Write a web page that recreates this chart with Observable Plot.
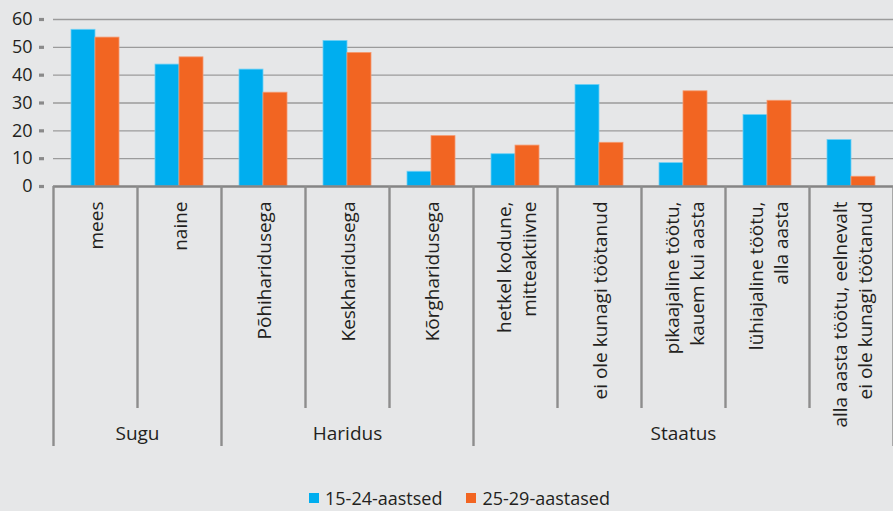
<!DOCTYPE html>
<html>
<head>
<meta charset="utf-8">
<script src="https://cdn.jsdelivr.net/npm/d3@7"></script>
<script src="https://cdn.jsdelivr.net/npm/@observablehq/plot@0.6"></script>
<style>
  html, body { margin: 0; padding: 0; background: #e6e7e8; }
  #wrap { position: relative; width: 893px; height: 511px; overflow: hidden; font-family: "Open Sans", sans-serif; color: #231f20; }
  #legend { position: absolute; left: 309px; top: 488px; height: 20px; line-height: 20px; display: flex; align-items: center; font-size: 18px; }
  #legend .sw { width: 10px; height: 10px; display: inline-block; margin-right: 6px; }
  #legend .item { display: flex; align-items: center; margin-right: 24px; line-height: 20px; }
</style>
</head>
<body>
<div id="wrap"><div id="chart"></div><div id="legend"></div></div>
<script>
const categories = [
  "mees", "naine",
  "Põhiharidusega", "Keskharidusega", "Kõrgharidusega",
  "hetkel kodune,\nmitteaktiivne", "ei ole kunagi töötanud",
  "pikaajaline töötu,\nkauem kui aasta", "lühiajaline töötu,\nalla aasta",
  "alla aasta töötu, eelnevalt\nei ole kunagi töötanud"
];
const groups = ["Sugu", "Sugu", "Haridus", "Haridus", "Haridus",
  "Staatus", "Staatus", "Staatus", "Staatus", "Staatus"];
const seriesNames = ["15-24-aastsed", "25-29-aastased"];
const values1524 = [56.3, 43.8, 42.0, 52.3, 5.3, 11.6, 36.5, 8.4, 25.7, 16.7];
const values2529 = [53.5, 46.4, 33.7, 48.0, 18.1, 14.7, 15.7, 34.2, 30.8, 3.5];
const yTicks = [0, 10, 20, 30, 40, 50, 60];
const colors = ["#00aeef", "#f26522"];

// derived tables
const idx = categories.map((_, i) => i);
const groupSpans = [];
groups.forEach((g, i) => {
  const last = groupSpans[groupSpans.length - 1];
  if (last && last.name === g) last.end = i + 1;
  else groupSpans.push({name: g, start: i, end: i + 1});
});
const groupBounds = [0, ...groupSpans.map(g => g.end)];
const innerBounds = d3.range(1, categories.length).filter(b => !groupBounds.includes(b));

const chart = Plot.plot({
  width: 893,
  height: 482,
  marginLeft: 53,
  marginRight: 0,
  marginTop: 19,
  marginBottom: 296,
  x: {type: "linear", domain: [0, categories.length], axis: null},
  y: {domain: [0, 60], axis: null},
  style: {background: "transparent", fontFamily: "Open Sans, sans-serif", color: "#231f20", overflow: "visible"},
  marks: [
    Plot.ruleY(yTicks.filter(d => d > 0), {stroke: "#9b9b9b", strokeWidth: 1.3}),
    Plot.rectY(idx, {x1: i => i, x2: i => i + 1, y1: 0, y2: i => values1524[i],
      insetLeft: 18, insetRight: 42, fill: colors[0], stroke: "#6fd0f5", strokeWidth: 0.8}),
    Plot.rectY(idx, {x1: i => i, x2: i => i + 1, y1: 0, y2: i => values2529[i],
      insetLeft: 42, insetRight: 18, fill: colors[1], stroke: "#f59a70", strokeWidth: 0.8}),
    Plot.ruleY([0], {stroke: "#858585", strokeWidth: 2.6}),
    Plot.ruleX(innerBounds, {x: d => d, y1: 0, y2: 0, insetBottom: -222, stroke: "#8d8d8d", strokeWidth: 2.4}),
    Plot.ruleX(groupBounds, {x: d => d, y1: 0, y2: 0, insetBottom: -260, stroke: "#8d8d8d", strokeWidth: 2.4}),
    Plot.axisY({ticks: yTicks, tickSize: 5, tickPadding: 7, dx: -9, stroke: "#8a8a8a", strokeWidth: 3.2,
      fill: "#231f20", fontSize: 18, tickFormat: d => d}),
    Plot.text(idx, {x: i => i + 0.5, y: 0, text: i => categories[i], rotate: -90,
      textAnchor: "end", lineAnchor: "middle", lineHeight: 1.3, dy: 15, fontSize: 19, fill: "#231f20"}),
    Plot.text(groupSpans, {x: d => (d.start + d.end) / 2, y: 0, text: "name", dy: 247,
      lineAnchor: "middle", fontSize: 19, fill: "#231f20"})
  ]
});
document.getElementById("chart").appendChild(chart);

const legend = document.getElementById("legend");
seriesNames.forEach((name, k) => {
  const item = document.createElement("span");
  item.className = "item";
  const sw = document.createElement("span");
  sw.className = "sw";
  sw.style.background = colors[k];
  item.appendChild(sw);
  item.appendChild(document.createTextNode(name));
  legend.appendChild(item);
});
</script>
</body>
</html>
